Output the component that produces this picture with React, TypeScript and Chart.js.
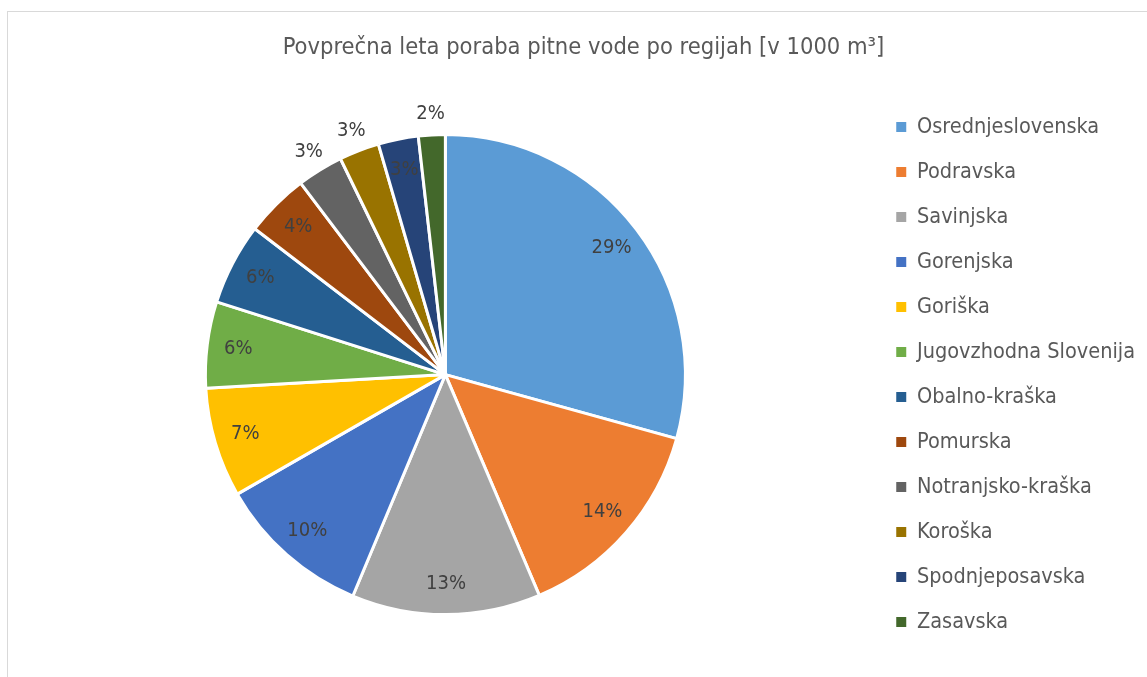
import React, { useEffect, useRef } from 'react';
import { Chart, registerables } from 'chart.js';

Chart.register(...registerables);

const chartTitle = 'Povprečna leta poraba pitne vode po regijah [v 1000 m³]';
const regions = [
  'Osrednjeslovenska',
  'Podravska',
  'Savinjska',
  'Gorenjska',
  'Goriška',
  'Jugovzhodna Slovenija',
  'Obalno-kraška',
  'Pomurska',
  'Notranjsko-kraška',
  'Koroška',
  'Spodnjeposavska',
  'Zasavska',
];
const shares = [29.3, 14.3, 12.7, 10.4, 7.4, 5.8, 5.5, 4.3, 3.1, 2.7, 2.7, 1.8];
const sliceColors = [
  '#5B9BD5',
  '#ED7D31',
  '#A5A5A5',
  '#4472C4',
  '#FFC000',
  '#70AD47',
  '#255E91',
  '#9E480E',
  '#636363',
  '#997300',
  '#264478',
  '#43682B',
];
const outsideLabels = [8, 9, 11];

const FONT = '"DejaVu Sans Condensed", "Liberation Sans", sans-serif';

const pieLabels = {
  id: 'pieLabels',
  afterDatasetsDraw(chart: any) {
    const meta = chart.getDatasetMeta(0);
    const data = chart.data.datasets[0].data as number[];
    const total = data.reduce((a, b) => a + b, 0);
    const ctx = chart.ctx;
    ctx.save();
    ctx.font = `20px ${FONT}`;
    ctx.fillStyle = '#404040';
    ctx.textAlign = 'center';
    ctx.textBaseline = 'middle';
    meta.data.forEach((arc: any, i: number) => {
      const p = arc.getProps(['x', 'y', 'startAngle', 'endAngle', 'outerRadius'], true);
      const mid = (p.startAngle + p.endAngle) / 2;
      const r = outsideLabels.includes(i) ? p.outerRadius * 1.09 : p.outerRadius * 0.87;
      const tx = p.x + Math.cos(mid) * r;
      const ty = p.y + Math.sin(mid) * r;
      ctx.fillText(Math.round((data[i] / total) * 100) + '%', tx, ty);
    });
    ctx.restore();
  },
};

const titleShift = {
  id: 'titleShift',
  afterLayout(chart: any) {
    const t = chart.titleBlock;
    if (t) {
      t.left += 2;
      t.right += 2;
    }
  },
};

export default function App() {
  const ref = useRef<HTMLCanvasElement | null>(null);
  useEffect(() => {
    if (!ref.current) return;
    const baseGen = (Chart as any).overrides.pie.plugins.legend.labels.generateLabels;
    const chart = new Chart(ref.current, {
      type: 'pie',
      data: {
        labels: regions,
        datasets: [
          {
            data: shares,
            backgroundColor: sliceColors,
            borderColor: '#ffffff',
            borderWidth: 3,
          },
        ],
      },
      options: {
        responsive: false,
        animation: false,
        radius: 240,
        layout: { padding: { left: 10, right: 14, top: 0, bottom: 20 } },
        plugins: {
          title: {
            display: true,
            text: chartTitle,
            color: '#595959',
            font: { family: FONT, size: 23.5, weight: 'normal' },
            padding: { top: 22, bottom: 15 },
          },
          legend: {
            display: true,
            position: 'right',
            fullSize: false,
            labels: {
              boxWidth: 10,
              boxHeight: 10,
              padding: 23.5,
              color: '#595959',
              font: { family: FONT, size: 21.5 },
              generateLabels(chart: any) {
                return baseGen(chart).map((it: any) => ({
                  ...it,
                  lineWidth: 0,
                  strokeStyle: it.fillStyle,
                }));
              },
            },
          },
          tooltip: { enabled: false },
        },
      } as any,
      plugins: [pieLabels, titleShift],
    });
    return () => chart.destroy();
  }, []);
  return (
    <div
      style={{
        position: 'fixed',
        left: 0,
        top: 0,
        width: 1147,
        height: 677,
        overflow: 'hidden',
        background: '#ffffff',
      }}
    >
      <div
        style={{
          position: 'absolute',
          left: 7,
          top: 11,
          width: 1151,
          height: 680,
          border: '1px solid #d9d9d9',
        }}
      >
        <canvas ref={ref} width={1151} height={680} style={{ display: 'block' }} />
      </div>
    </div>
  );
}
